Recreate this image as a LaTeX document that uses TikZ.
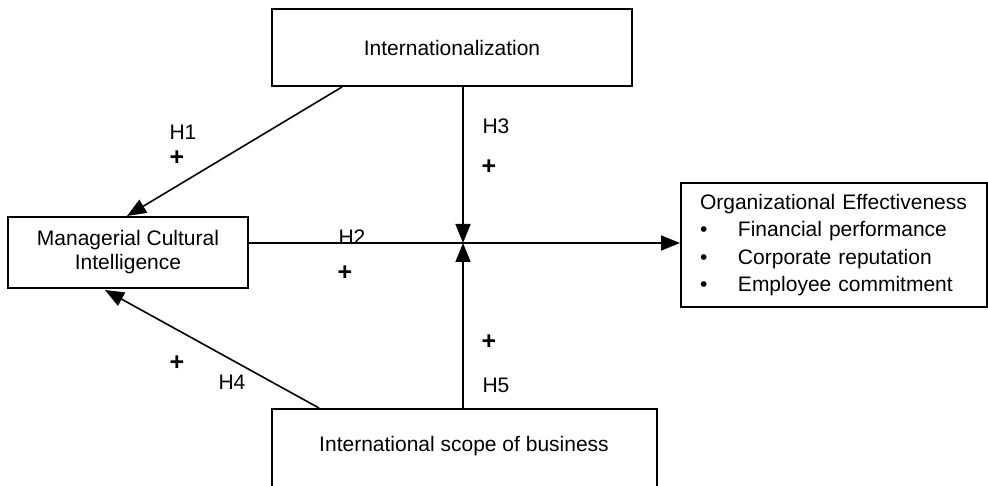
\documentclass[tikz,border=0pt]{standalone}
\usepackage{fontspec}
\setmainfont{Liberation Sans}
\usepackage{tikz}
\usetikzlibrary{arrows.meta,calc}
\tikzstyle{box} = [draw, line width=2pt, inner sep=0pt, align=center,
    font=\fontsize{21}{24}\selectfont]
\tikzstyle{hyp} = [font=\fontsize{21}{24}\selectfont, inner sep=0pt]
\tikzstyle{sign} = [font=\fontsize{25}{25}\selectfont\bfseries, inner sep=0pt]
\tikzset{>={Triangle[length=19pt,width=15pt]}}

\begin{document}
\begin{tikzpicture}[x=1pt,y=-1pt]
\useasboundingbox (0,0) rectangle (988,486);
    %boxes
    \node[box, minimum width=360, minimum height=77] (intl) at (452,47.5) {Internationalization};
    \node[box, minimum width=240, minimum height=71] (mci) at (128,252.5) {Managerial Cultural\\Intelligence};
    \node[box, minimum width=306, minimum height=124, text width=268, inner xsep=19pt,
        align=left, font=\fontsize{21}{27.3}\selectfont] (oe) at (834,245)
        {Organizational Effectiveness\\
         \makebox[38pt][l]{•}Financial performance\\
         \makebox[38pt][l]{•}Corporate reputation\\
         \makebox[38pt][l]{•}Employee commitment};
    \node[box, minimum width=385, minimum height=100] (isb) at (464.5,459) {};
    \node[hyp] (isbtext) at (464,446) {International scope of business};
    \coordinate (junc) at (463,243);
    %lines
    \draw[->, line width=1.6pt] ([xshift=71pt]intl.south west) -- ([xshift=120pt]mci.north west);
    \draw[->, line width=1.6pt] ([xshift=48pt]isb.north west) -- ([xshift=98pt,yshift=-1pt]mci.south west);
    \draw[->, line width=1.6pt] (mci.east |- junc) -- (oe.west |- junc);
    \draw[->, line width=1.6pt] (intl.south -| junc) -- (junc);
    \draw[->, line width=1.6pt] (isb.north -| junc) -- (junc);
    %labels
    \node[hyp] (h1) at (183,132) {H1};
    \node[sign] (p1) at (177,158) {+};
    \node[hyp] (h2) at (352,237) {H2};
    \node[sign] (p2) at (345,273) {+};
    \node[hyp] (h3) at (496,126) {H3};
    \node[sign] (p3) at (489,167) {+};
    \node[hyp] (h4) at (232,382) {H4};
    \node[sign] (p4) at (177,363) {+};
    \node[hyp] (h5) at (496,385) {H5};
    \node[sign] (p5) at (489,342) {+};
\end{tikzpicture}
\end{document}
